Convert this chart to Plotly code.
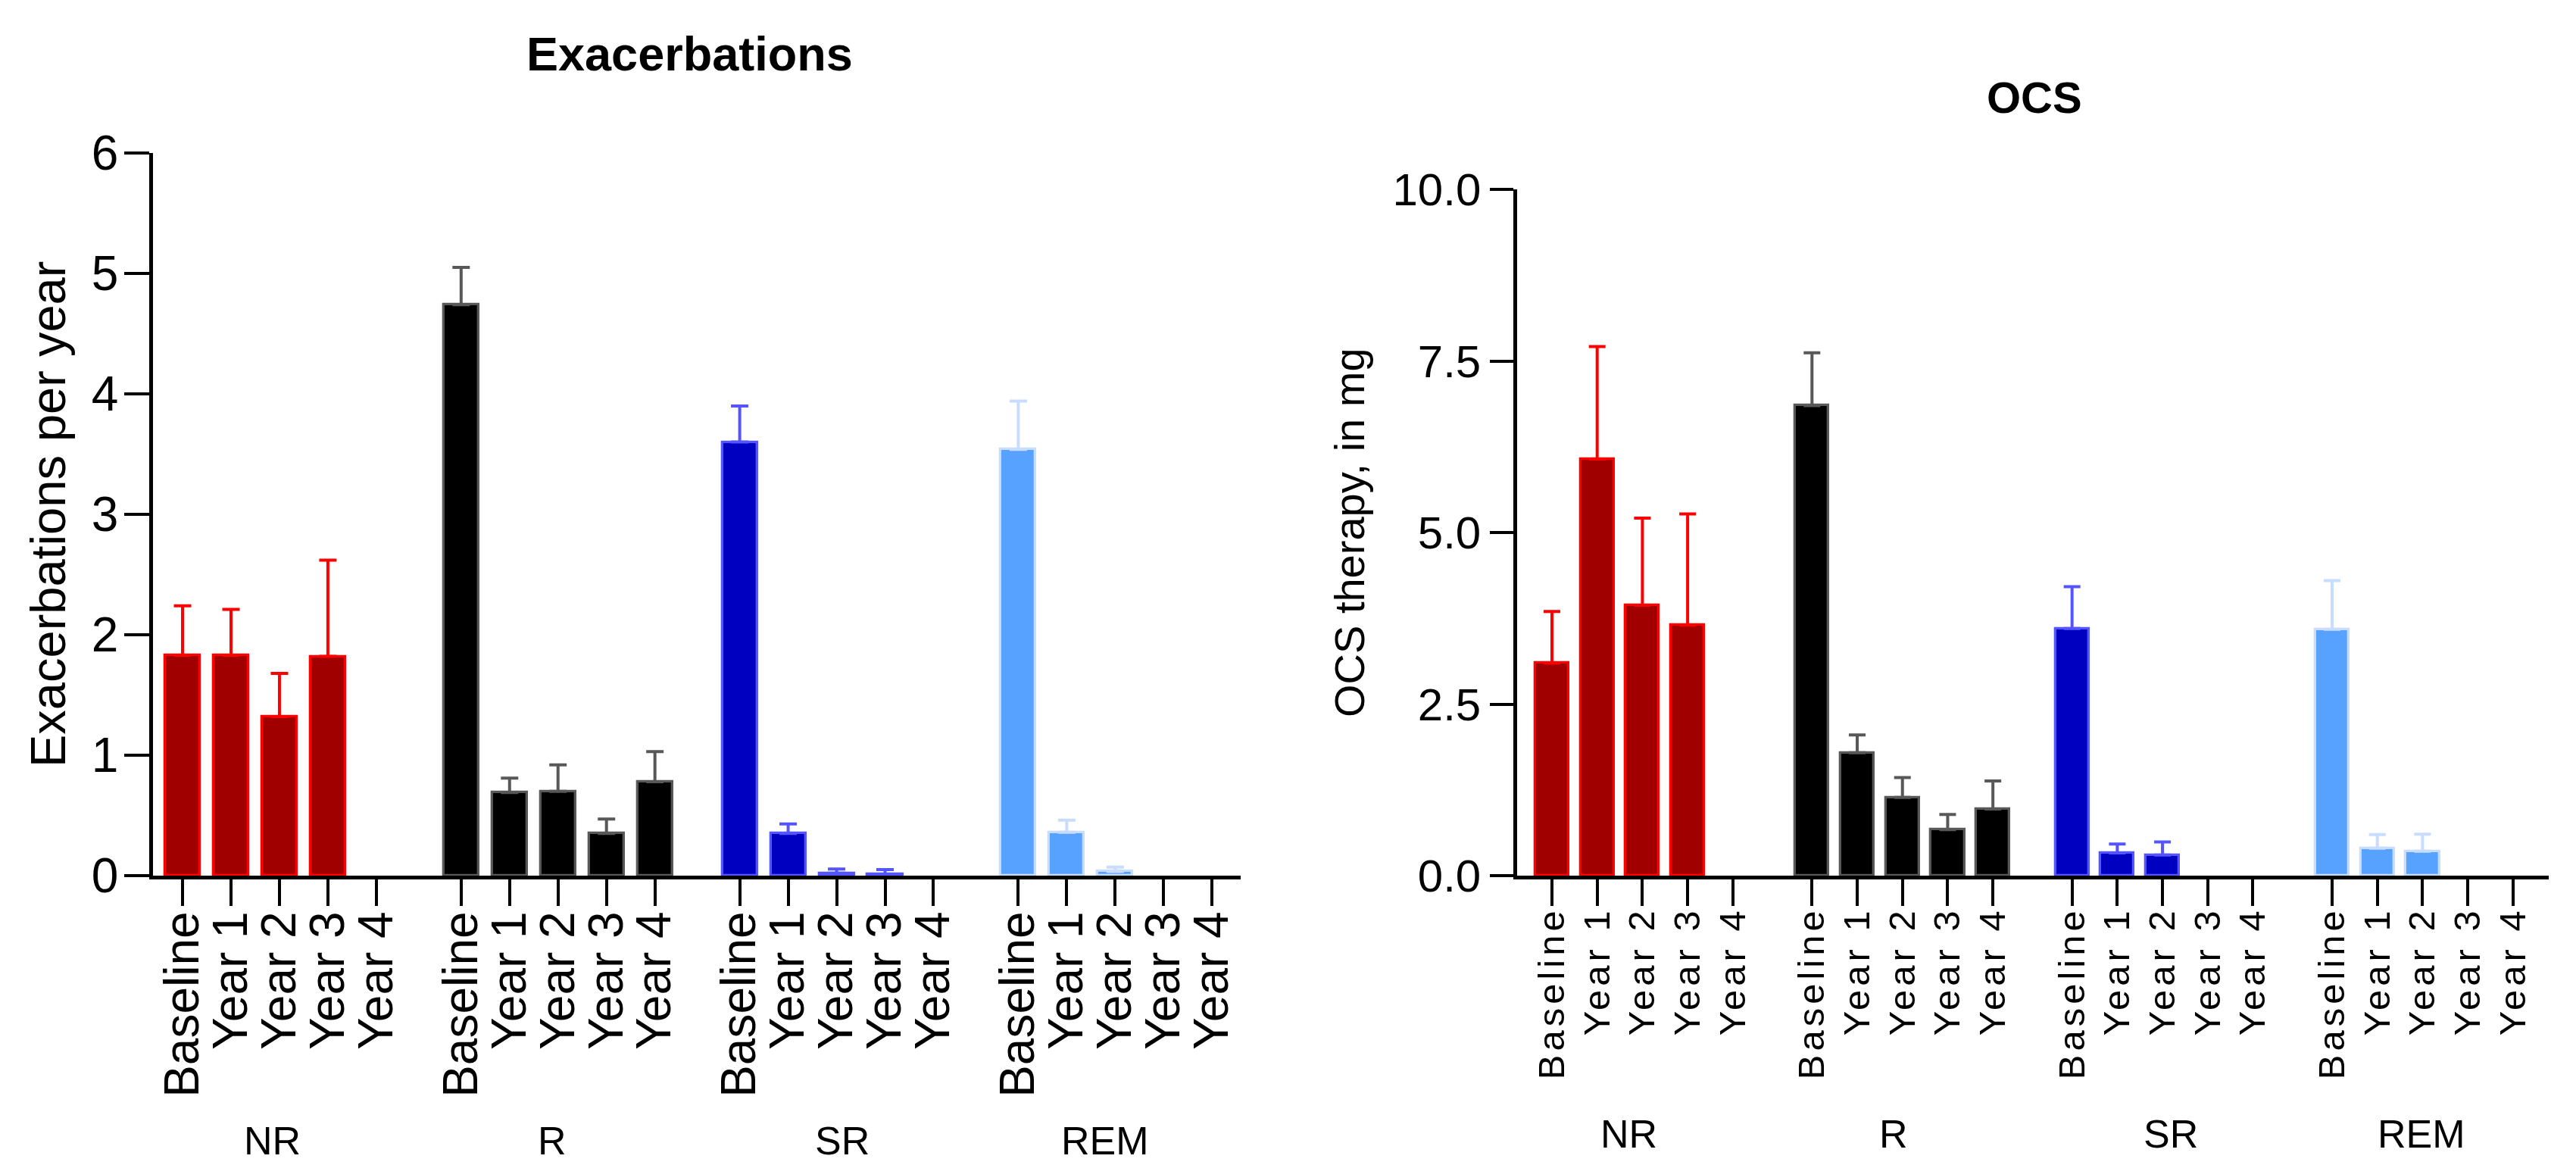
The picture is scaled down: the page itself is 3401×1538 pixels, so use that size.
import plotly.graph_objects as go

# ---------------- data ----------------
groups = ["NR", "R", "SR", "REM"]
timepoints = ["Baseline", "Year 1", "Year 2", "Year 3", "Year 4"]

# Exacerbations per year (mean) and upper error (SEM)
exa_NR = [1.83, 1.83, 1.32, 1.82, None]
exa_NR_err = [0.41, 0.38, 0.36, 0.80, None]
exa_R = [4.74, 0.69, 0.70, 0.35, 0.78]
exa_R_err = [0.31, 0.12, 0.22, 0.12, 0.25]
exa_SR = [3.60, 0.35, 0.02, 0.01, None]
exa_SR_err = [0.30, 0.08, 0.035, 0.04, None]
exa_REM = [3.54, 0.36, 0.035, None, None]
exa_REM_err = [0.40, 0.10, 0.035, None, None]

# OCS therapy, in mg (mean) and upper error (SEM)
ocs_NR = [3.10, 6.07, 3.94, 3.65, None]
ocs_NR_err = [0.75, 1.64, 1.27, 1.62, None]
ocs_R = [6.85, 1.79, 1.14, 0.67, 0.97]
ocs_R_err = [0.77, 0.26, 0.29, 0.22, 0.41]
ocs_SR = [3.60, 0.33, 0.30, None, None]
ocs_SR_err = [0.61, 0.13, 0.19, None, None]
ocs_REM = [3.59, 0.40, 0.355, None, None]
ocs_REM_err = [0.71, 0.20, 0.25, None, None]

exa_ticks = [0, 1, 2, 3, 4, 5, 6]
ocs_ticks = [0, 2.5, 5.0, 7.5, 10.0]

# ---------------- styles ----------------
fills = {"NR": "#A00000", "R": "#000000", "SR": "#0000C0", "REM": "#58A2FF"}
edges = {"NR": "#FF0000", "R": "#585858", "SR": "#5555FF", "REM": "#C8DCFF"}
FONT = "Liberation Sans, Arial, Helvetica, sans-serif"
GROUP_STEP = 5.75
W, H = 3401, 1538

exa_data = {"NR": (exa_NR, exa_NR_err), "R": (exa_R, exa_R_err),
            "SR": (exa_SR, exa_SR_err), "REM": (exa_REM, exa_REM_err)}
ocs_data = {"NR": (ocs_NR, ocs_NR_err), "R": (ocs_R, ocs_R_err),
            "SR": (ocs_SR, ocs_SR_err), "REM": (ocs_REM, ocs_REM_err)}

fig = go.Figure()
tickpos, ticklab = [], []
for g, name in enumerate(groups):
    xs = [g * GROUP_STEP + i for i in range(len(timepoints))]
    tickpos += xs
    ticklab += timepoints
    for data, xa, ya, bw, capw in ((exa_data, "x", "y", 0.72, 11.5), (ocs_data, "x2", "y2", 0.74, 11)):
        vals, errs = data[name]
        fig.add_trace(go.Bar(
            x=xs, y=vals, width=bw, xaxis=xa, yaxis=ya, showlegend=False, name=name,
            marker=dict(color=fills[name], line=dict(color=edges[name], width=3.3)),
            error_y=dict(type="data", symmetric=False, array=errs,
                         arrayminus=[0 if v is not None else None for v in vals],
                         color=edges[name], thickness=4, width=capw),
        ))

y_bot = (H - 1156) / H
common_x = dict(tickmode="array", tickvals=tickpos, ticktext=ticklab, tickangle=-90,
                ticks="outside", ticklen=35, tickwidth=4, tickcolor="black",
                showline=True, linewidth=4.5, linecolor="black", automargin=False,
                ticklabelstandoff=-18,
                showgrid=False, zeroline=False, color="black")
common_y = dict(ticks="outside", tickwidth=4, tickcolor="black", automargin=False,
                showline=True, linewidth=4.5, linecolor="black",
                showgrid=False, zeroline=False, color="black")

fig.update_layout(
    template="none",
    width=W, height=H, autosize=False,
    margin=dict(l=0, r=0, t=0, b=0, pad=0),
    paper_bgcolor="white", plot_bgcolor="white",
    font=dict(family=FONT, color="black"),
    bargap=0,
    xaxis=dict(domain=[202 / W, 1638 / W], range=[-0.61, 21.84], anchor="y",
               tickfont=dict(size=64, family=FONT), **common_x),
    yaxis=dict(domain=[y_bot, (H - 202) / H], range=[0, 6], anchor="x",
               tickvals=exa_ticks, ticklen=33, ticklabelstandoff=-5,
               tickfont=dict(size=64, family=FONT), **common_y),
    xaxis2=dict(domain=[2003 / W, 3365 / W], range=[-0.77, 22.04], anchor="y2",
                tickfont=dict(size=49, family=FONT), **common_x),
    yaxis2=dict(domain=[y_bot, (H - 250) / H], range=[0, 10], anchor="x2",
                tickvals=ocs_ticks, tickformat=".1f", ticklen=31,
                tickfont=dict(size=60, family=FONT), **common_y),
)

ann = []
def label(text, px, py, size, angle=0):
    ann.append(dict(text=text, x=px / W, y=(H - py) / H, xref="paper", yref="paper",
                    xanchor="center", yanchor="middle", textangle=angle,
                    showarrow=False, font=dict(size=size, family=FONT, color="black")))

# titles
label("<b>Exacerbations</b>", 910, 71, 63)
label("<b>OCS</b>", 2686, 128, 58)
# axis titles
label("Exacerbations per year", 63, 679, 65, -90)
label("OCS therapy, in mg", 1782, 703, 56, -90)
# group labels
left_lab_x = [359, 729, 1112, 1459]
right_lab_x = [2150, 2500, 2866, 3197]
for name, lx, rx in zip(groups, left_lab_x, right_lab_x):
    label(name, lx, 1506, 52)
    label(name, rx, 1497, 52)
fig.update_layout(annotations=ann)

post = """
document.body.style.margin = '0';
function spaceTicks(){
  document.querySelectorAll('g.x2tick text').forEach(function(t){
    t.setAttribute('letter-spacing','5px');
  });
}
spaceTicks();
var gd = document.getElementsByClassName('plotly-graph-div')[0];
if (gd && gd.on) { gd.on('plotly_afterplot', spaceTicks); }
"""
fig.write_html("out.html", post_script=post, config={"displayModeBar": False})
